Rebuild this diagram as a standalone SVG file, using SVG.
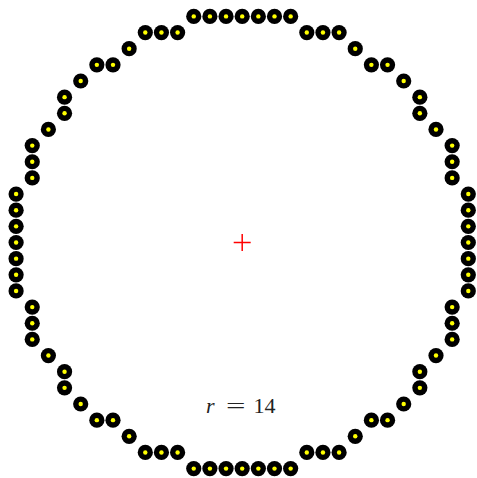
<svg xmlns="http://www.w3.org/2000/svg" xmlns:xlink="http://www.w3.org/1999/xlink" width="477" height="478" viewBox="0 0 477 478">
<style>
.lbl{font-family:"Liberation Serif","DejaVu Serif",serif;font-size:22px;fill:#222}
</style>
<defs>
<g id="dot"><circle r="7.6" fill="#000"/><circle r="2.2" fill="#ffff00"/></g>
</defs>
<rect width="477" height="478" fill="#fff"/>
<g id="pixels">
<g id="p01"><use href="#dot" x="193.75" y="16.4"/></g>
<g id="p02"><use href="#dot" x="209.9" y="16.4"/></g>
<g id="p03"><use href="#dot" x="226.05" y="16.4"/></g>
<g id="p04"><use href="#dot" x="242.2" y="16.4"/></g>
<g id="p05"><use href="#dot" x="258.35" y="16.4"/></g>
<g id="p06"><use href="#dot" x="274.5" y="16.4"/></g>
<g id="p07"><use href="#dot" x="290.65" y="16.4"/></g>
<g id="p08"><use href="#dot" x="145.3" y="32.55"/></g>
<g id="p09"><use href="#dot" x="161.45" y="32.55"/></g>
<g id="p10"><use href="#dot" x="177.6" y="32.55"/></g>
<g id="p11"><use href="#dot" x="306.8" y="32.55"/></g>
<g id="p12"><use href="#dot" x="322.95" y="32.55"/></g>
<g id="p13"><use href="#dot" x="339.1" y="32.55"/></g>
<g id="p14"><use href="#dot" x="129.15" y="48.7"/></g>
<g id="p15"><use href="#dot" x="355.25" y="48.7"/></g>
<g id="p16"><use href="#dot" x="96.85" y="64.85"/></g>
<g id="p17"><use href="#dot" x="113.0" y="64.85"/></g>
<g id="p18"><use href="#dot" x="371.4" y="64.85"/></g>
<g id="p19"><use href="#dot" x="387.55" y="64.85"/></g>
<g id="p20"><use href="#dot" x="80.7" y="81.0"/></g>
<g id="p21"><use href="#dot" x="403.7" y="81.0"/></g>
<g id="p22"><use href="#dot" x="64.55" y="97.15"/></g>
<g id="p23"><use href="#dot" x="419.85" y="97.15"/></g>
<g id="p24"><use href="#dot" x="64.55" y="113.3"/></g>
<g id="p25"><use href="#dot" x="419.85" y="113.3"/></g>
<g id="p26"><use href="#dot" x="48.4" y="129.45"/></g>
<g id="p27"><use href="#dot" x="436.0" y="129.45"/></g>
<g id="p28"><use href="#dot" x="32.25" y="145.6"/></g>
<g id="p29"><use href="#dot" x="452.15" y="145.6"/></g>
<g id="p30"><use href="#dot" x="32.25" y="161.75"/></g>
<g id="p31"><use href="#dot" x="452.15" y="161.75"/></g>
<g id="p32"><use href="#dot" x="32.25" y="177.9"/></g>
<g id="p33"><use href="#dot" x="452.15" y="177.9"/></g>
<g id="p34"><use href="#dot" x="16.1" y="194.05"/></g>
<g id="p35"><use href="#dot" x="468.3" y="194.05"/></g>
<g id="p36"><use href="#dot" x="16.1" y="210.2"/></g>
<g id="p37"><use href="#dot" x="468.3" y="210.2"/></g>
<g id="p38"><use href="#dot" x="16.1" y="226.35"/></g>
<g id="p39"><use href="#dot" x="468.3" y="226.35"/></g>
<g id="p40"><use href="#dot" x="16.1" y="242.5"/></g>
<g id="p41"><use href="#dot" x="468.3" y="242.5"/></g>
<g id="p42"><use href="#dot" x="16.1" y="258.65"/></g>
<g id="p43"><use href="#dot" x="468.3" y="258.65"/></g>
<g id="p44"><use href="#dot" x="16.1" y="274.8"/></g>
<g id="p45"><use href="#dot" x="468.3" y="274.8"/></g>
<g id="p46"><use href="#dot" x="16.1" y="290.95"/></g>
<g id="p47"><use href="#dot" x="468.3" y="290.95"/></g>
<g id="p48"><use href="#dot" x="32.25" y="307.1"/></g>
<g id="p49"><use href="#dot" x="452.15" y="307.1"/></g>
<g id="p50"><use href="#dot" x="32.25" y="323.25"/></g>
<g id="p51"><use href="#dot" x="452.15" y="323.25"/></g>
<g id="p52"><use href="#dot" x="32.25" y="339.4"/></g>
<g id="p53"><use href="#dot" x="452.15" y="339.4"/></g>
<g id="p54"><use href="#dot" x="48.4" y="355.55"/></g>
<g id="p55"><use href="#dot" x="436.0" y="355.55"/></g>
<g id="p56"><use href="#dot" x="64.55" y="371.7"/></g>
<g id="p57"><use href="#dot" x="419.85" y="371.7"/></g>
<g id="p58"><use href="#dot" x="64.55" y="387.85"/></g>
<g id="p59"><use href="#dot" x="419.85" y="387.85"/></g>
<g id="p60"><use href="#dot" x="80.7" y="404.0"/></g>
<g id="p61"><use href="#dot" x="403.7" y="404.0"/></g>
<g id="p62"><use href="#dot" x="96.85" y="420.15"/></g>
<g id="p63"><use href="#dot" x="113.0" y="420.15"/></g>
<g id="p64"><use href="#dot" x="371.4" y="420.15"/></g>
<g id="p65"><use href="#dot" x="387.55" y="420.15"/></g>
<g id="p66"><use href="#dot" x="129.15" y="436.3"/></g>
<g id="p67"><use href="#dot" x="355.25" y="436.3"/></g>
<g id="p68"><use href="#dot" x="145.3" y="452.45"/></g>
<g id="p69"><use href="#dot" x="161.45" y="452.45"/></g>
<g id="p70"><use href="#dot" x="177.6" y="452.45"/></g>
<g id="p71"><use href="#dot" x="306.8" y="452.45"/></g>
<g id="p72"><use href="#dot" x="322.95" y="452.45"/></g>
<g id="p73"><use href="#dot" x="339.1" y="452.45"/></g>
<g id="p74"><use href="#dot" x="193.75" y="468.6"/></g>
<g id="p75"><use href="#dot" x="209.9" y="468.6"/></g>
<g id="p76"><use href="#dot" x="226.05" y="468.6"/></g>
<g id="p77"><use href="#dot" x="242.2" y="468.6"/></g>
<g id="p78"><use href="#dot" x="258.35" y="468.6"/></g>
<g id="p79"><use href="#dot" x="274.5" y="468.6"/></g>
<g id="p80"><use href="#dot" x="290.65" y="468.6"/></g>
</g>
<g id="center" stroke="#ff0000" stroke-width="1.5">
<line x1="233.7" y1="242.5" x2="250.7" y2="242.5"/>
<line x1="242.2" y1="234" x2="242.2" y2="251"/>
</g>
<g id="label">
<text class="lbl" x="206" y="412.5" font-style="italic">r</text>
<text class="lbl" x="226" y="412.5" font-size="26" textLength="19.5" lengthAdjust="spacingAndGlyphs">=</text>
<text class="lbl" x="253.5" y="412.5">14</text>
</g>
</svg>
